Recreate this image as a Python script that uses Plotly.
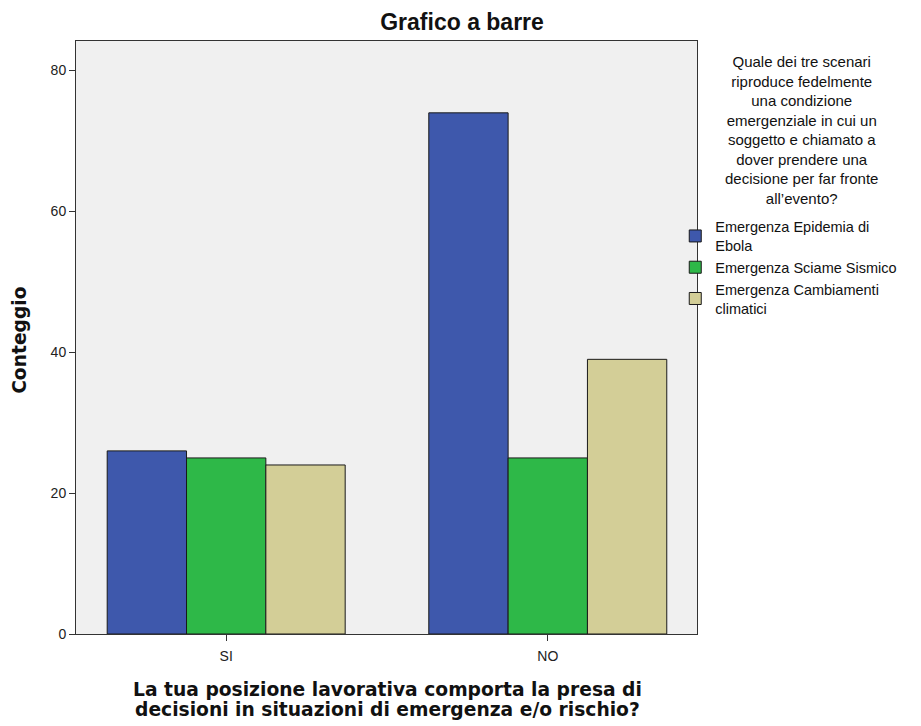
import plotly.graph_objects as go

categories = ["SI", "NO"]
series_names = [
    "Emergenza Epidemia di<br>Ebola",
    "Emergenza Sciame Sismico",
    "Emergenza Cambiamenti<br>climatici",
]
ebola = [26, 74]
sciame = [25, 25]
clima = [24, 39]
colors = ["#3E58AC", "#2EB848", "#D3CE97"]

legend_title = ("Quale dei tre scenari<br>riproduce fedelmente<br>una condizione<br>"
                "emergenziale in cui un<br>soggetto e chiamato a<br>dover prendere una<br>"
                "decisione per far fronte<br>all’evento?")
x_title_lines = ["La tua posizione lavorativa comporta la presa di",
                 "decisioni in situazioni di emergenza e/o rischio?"]

fig = go.Figure()
for name, vals, c in zip(series_names, [ebola, sciame, clima], colors):
    fig.add_trace(go.Bar(
        x=categories, y=vals, name=name,
        marker=dict(color=c, line=dict(color="#1a1a1a", width=1)),
    ))

title_font = dict(family="DejaVu Sans", size=18.7, color="#111")
annotations = [
    dict(text=legend_title, xref="paper", yref="paper", x=1.169, y=0.983,
         xanchor="center", yanchor="top", showarrow=False, align="center",
         font=dict(size=15, color="#111")),
    dict(text="<b>Conteggio</b>", xref="paper", yref="paper", x=-0.0902, y=0.496,
         xanchor="center", yanchor="middle", textangle=-90, showarrow=False,
         font=title_font),
]
for line, yy in zip(x_title_lines, [-0.0944, -0.1265]):
    annotations.append(dict(text="<b>" + line + "</b>", xref="paper", yref="paper",
                            x=0.502, y=yy, xanchor="center", yanchor="middle",
                            showarrow=False, font=title_font))

fig.update_layout(
    barmode="group",
    bargap=0.26,
    bargroupgap=0,
    width=921,
    height=726,
    paper_bgcolor="white",
    plot_bgcolor="#F0F0F0",
    font=dict(family="Liberation Sans, Arial", size=14, color="#222"),
    margin=dict(l=68, r=232, t=33, b=100),
    title=dict(text="<b>Grafico a barre</b>", xref="container", x=0.493, xanchor="center",
               y=0.981, yanchor="middle", font=dict(size=23, color="#111")),
    xaxis=dict(
        range=[-0.467, 1.464],
        showline=True, linecolor="#333", linewidth=1, mirror=True,
        ticks="outside", ticklen=6, tickcolor="#333", ticklabelstandoff=3,
    ),
    yaxis=dict(
        range=[0, 84.2],
        tickvals=[0, 20, 40, 60, 80],
        showgrid=False, zeroline=False,
        showline=True, linecolor="#333", linewidth=1, mirror=True,
        ticks="outside", ticklen=6, tickcolor="#333",
    ),
    legend=dict(
        x=0.965, xanchor="left", y=0.714, yanchor="top",
        bgcolor="rgba(0,0,0,0)", tracegroupgap=0,
        font=dict(size=14.5, color="#111"),
        itemwidth=30,
    ),
    annotations=annotations,
)

fig.write_html("out.html")
